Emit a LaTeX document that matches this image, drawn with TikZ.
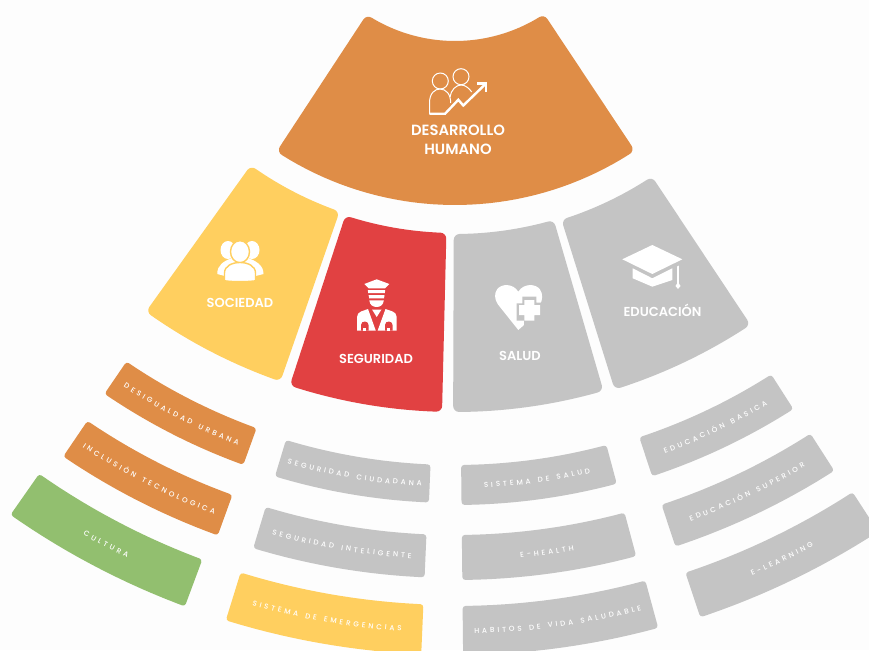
\documentclass[tikz,border=0pt]{standalone}
\usepackage{fontspec}
\usetikzlibrary{decorations.text}
\newfontfamily\popbig{Poppins SemiBold}
\newfontfamily\popsm[LetterSpace=14]{Poppins Medium}
\newcommand\wg{\hbox to 1.5pt{\hfil}}
\definecolor{bgc}{HTML}{FDFDFD}
\definecolor{oranc}{HTML}{DF8D47}
\definecolor{yelc}{HTML}{FFCF5F}
\definecolor{redc}{HTML}{E14142}
\definecolor{grayc}{HTML}{C4C4C4}
\definecolor{greenc}{HTML}{92BF6F}
\newcommand\sect[6]{% rho colour a1 a2 r1 r2
  \pgfmathsetmacro\ra{#5+#1}\pgfmathsetmacro\rb{#6-#1}
  \pgfmathsetmacro\aa{#3+deg(#1/\ra)}\pgfmathsetmacro\ab{#4-deg(#1/\ra)}
  \pgfmathsetmacro\ac{#4-deg(#1/\rb)}\pgfmathsetmacro\ad{#3+deg(#1/\rb)}
  \draw[draw=#2,fill=#2,line width={2*#1 pt},line join=round]
    plot[domain=\aa:\ab,samples=40] ({455+\ra*sin(\x)},{-120+\ra*cos(\x)})
    -- plot[domain=\ac:\ad,samples=40] ({455+\rb*sin(\x)},{-120+\rb*cos(\x)}) -- cycle;}
\newcommand\sectext[5]{% a1 a2 r1 r2 text
  \pgfmathsetmacro\rc{(#3+#4)/2+3.2}
  \path[decorate,decoration={text along path,text align=center,
      text={|\popsm\fontsize{7.2}{7.5}\selectfont\color{white}|#5}}]
    plot[domain=#1:#2,samples=40] ({455+\rc*sin(\x)},{-120+\rc*cos(\x)});}
\tikzset{biglabel/.style={text=white,align=center,font=\popbig\fontsize{14.8}{19}\selectfont,inner sep=0pt},
  midlabel/.style={biglabel,font=\popbig\fontsize{13}{14}\selectfont}}
\begin{document}
\begin{tikzpicture}[x=1pt,y=-1pt]
\fill[bgc] (0,0) rectangle (869,650);
\clip (0,0) rectangle (869,650);
% main sectors
\sect{6}{oranc}{-33.3}{33.6}{161}{325}
\sect{6}{yelc}{-35.6}{-19.2}{351}{531}
\sect{6}{redc}{-18.1}{-1.4}{353}{532}
\sect{6}{grayc}{-0.2}{16.2}{354}{532}
\sect{6}{grayc}{17.4}{33.6}{356}{534}
% sub sectors
\sect{3}{oranc}{-34.3}{-19.9}{583}{622}
\sect{3}{oranc}{-34.2}{-19.9}{654}{697}
\sect{3}{greenc}{-35}{-20.4}{725}{775}
\sect{3}{grayc}{-16.8}{-2.4}{585}{623}
\sect{3}{grayc}{-16.8}{-2.5}{655}{698}
\sect{3}{yelc}{-17.2}{-2.5}{725}{775}
\sect{3}{grayc}{0.6}{15}{585}{625}
\sect{3}{grayc}{0.6}{15}{655}{700}
\sect{3}{grayc}{0.6}{15.2}{726}{775}
\sect{3}{grayc}{18.3}{32.6}{587}{628}
\sect{3}{grayc}{18.3}{32.7}{658}{702}
\sect{3}{grayc}{18.4}{33}{730}{777}
% curved labels
\sectext{-34.3}{-19.9}{583}{622}{D E S I G U A L D A D {\wg} U R B A N A}
\sectext{-34.2}{-19.9}{654}{697}{I N C L U S I Ó N {\wg} T E C N O L O G I C A}
\sectext{-35}{-20.4}{725}{775}{C U L T U R A}
\sectext{-16.8}{-2.4}{585}{623}{S E G U R I D A D {\wg} C I U D A D A N A}
\sectext{-16.8}{-2.5}{655}{698}{S E G U R I D A D {\wg} I N T E L I G E N T E}
\sectext{-17.2}{-2.5}{725}{775}{S I S T E M A {\wg} D E {\wg} E M E R G E N C I A S}
\sectext{0.6}{15}{585}{625}{S I S T E M A {\wg} D E {\wg} S A L U D}
\sectext{0.6}{15}{655}{700}{E - H E A L T H}
\sectext{0.6}{15.2}{726}{775}{H A B I T O S {\wg} D E {\wg} V I D A {\wg} S A L U D A B L E}
\sectext{18.3}{32.6}{587}{628}{E D U C A C I Ó N {\wg} B A S I C A}
\sectext{18.3}{32.7}{658}{702}{E D U C A C I Ó N {\wg} S U P E R I O R}
\sectext{18.4}{33}{730}{777}{E - L E A R N I N G}
% big labels
\node[biglabel] (dh) at (458,140) {DESARROLLO\\HUMANO};
\node[midlabel] (so) at (240,303) {SOCIEDAD};
\node[midlabel] (se) at (376,359) {SEGURIDAD};
\node[midlabel] (sa) at (520,355.5) {SALUD};
\node[midlabel] (ed) at (662.5,310.5) {EDUCACIÓN};
% growth icon
\begin{scope}[draw=white,line width=1pt]
\draw (440.3,81) circle[radius=8];
\draw (461,76.7) circle[radius=8];
\draw (445,114) -- (429.5,114) -- (429.5,103) .. controls (429.5,93) and (435,89) .. (440,89) .. controls (446,89) and (450.7,94) .. (450.7,103);
\draw (450,97) .. controls (451,90) and (456,85) .. (461,85) .. controls (465,85) and (469,88) .. (471.7,92);
\draw[line width=2.4pt,line join=miter] (429.5,113.8) -- (445,113.8) -- (458.3,99.8) -- (463.3,105.5) -- (485,84.5);
\draw[line width=2.4pt] (477.3,83.5) -- (486.2,83.5) -- (486.2,91.7);
\end{scope}
% society icon
\fill[white] (228,250) ellipse[x radius=7.5,y radius=9];
\fill[white] (252,250) ellipse[x radius=7.5,y radius=9];
\fill[white] (217.3,274) .. controls (217,265) and (224,261) .. (232,258) -- (248,258) .. controls (256,261) and (263.5,265) .. (263.5,274) -- (240,280) -- cycle;
\draw[yelc,line width=1.4pt,fill=white] (240,251.7) ellipse[x radius=9.5,y radius=11];
\draw[yelc,line width=1.4pt,fill=white] (224.5,280.8) -- (224.5,273) .. controls (224.5,266) and (232,262.5) .. (240,262.5) .. controls (248,262.5) and (255.5,266) .. (255.5,273) -- (255.5,280.8) .. controls (245,282) and (235,282) .. (224.5,280.8) -- cycle;
% security icon
\fill[white] (364.3,284) -- (376.7,279.3) -- (389.3,284) -- (385,288.3) -- (368.7,288.3) -- cycle;
\fill[white] (367.8,290) -- (385.2,290) -- (384.8,293) -- (368.2,293) -- cycle;
\fill[white] (368.6,295.2) -- (384.5,295.2) -- (384,298.3) -- (369.2,298.3) -- cycle;
\fill[white] (369.3,300.3) -- (383.8,300.3) .. controls (383.5,305) and (380,307) .. (376.7,307) .. controls (373,307) and (369.7,305) .. (369.3,300.3) -- cycle;
\fill[white] (357,330.7) -- (357,317) .. controls (357,314) and (359,312.5) .. (361,311.5) -- (368,309) -- (375.8,330.7) -- cycle;
\fill[white] (396.7,330.7) -- (396.7,317) .. controls (396.7,314) and (394.7,312.5) .. (392.7,311.5) -- (385.5,309) -- (377.6,330.7) -- cycle;
\fill[white] (372,309.5) -- (381.5,309.5) -- (376.7,317) -- cycle;
\fill[redc] (361,330.7) -- (361,325) .. controls (361,322.5) and (363,321.5) .. (365,321.5) .. controls (367,321.5) and (368.5,323) .. (368.5,325) -- (368.5,330.7) -- cycle;
\fill[redc] (385,330.7) -- (385,325) .. controls (385,322.5) and (387,321.5) .. (389,321.5) .. controls (391,321.5) and (392.5,323) .. (392.5,325) -- (392.5,330.7) -- cycle;
\fill[white] (363.2,327.5) rectangle (366.4,330.7);
\fill[white] (387.2,327.5) rectangle (390.4,330.7);
\fill[white] (385.5,317) rectangle (390,318.6);
% heart icon
\fill[white] (518.3,330) -- (498,304.5) .. controls (494,299) and (494.5,293) .. (497,289.5) .. controls (501,283.5) and (513,283) .. (518.3,291.7) .. controls (523.5,283) and (536,283.5) .. (540,289.5) .. controls (543,294) and (543,300) .. (539.5,305) -- (524,325) -- cycle;
\fill[grayc] (522.3,296.7) -- (536.3,296.7) -- (536.3,302.7) -- (543.3,302.7) -- (543.3,336.7) -- (524,336.7) -- (524,320.7) -- (516.7,320.7) -- (516.7,303.3) -- (522.3,303.3) -- cycle;
\fill[white] (524.3,300) -- (534.3,300) -- (534.3,305) -- (540,305) -- (540,315) -- (534.3,315) -- (534.3,320.7) -- (524.3,320.7) -- (524.3,315) -- (519,315) -- (519,305) -- (524.3,305) -- cycle;
% cap icon
\fill[white] (622.3,259.3) -- (652.3,245) -- (682.3,259.3) -- (652.3,274) -- cycle;
\fill[white] (632.7,268.3) -- (652.3,278.3) -- (672.3,268.3) -- (672.3,280) -- (652.3,286.7) -- (632.7,278.3) -- cycle;
\fill[white] (677.2,266.5) -- (678.8,265.7) -- (678.8,283) -- (677.2,283) -- cycle;
\fill[white] (678,282) -- (680.5,286) -- (678,289) -- (675.5,286) -- cycle;
\end{tikzpicture}
\end{document}
